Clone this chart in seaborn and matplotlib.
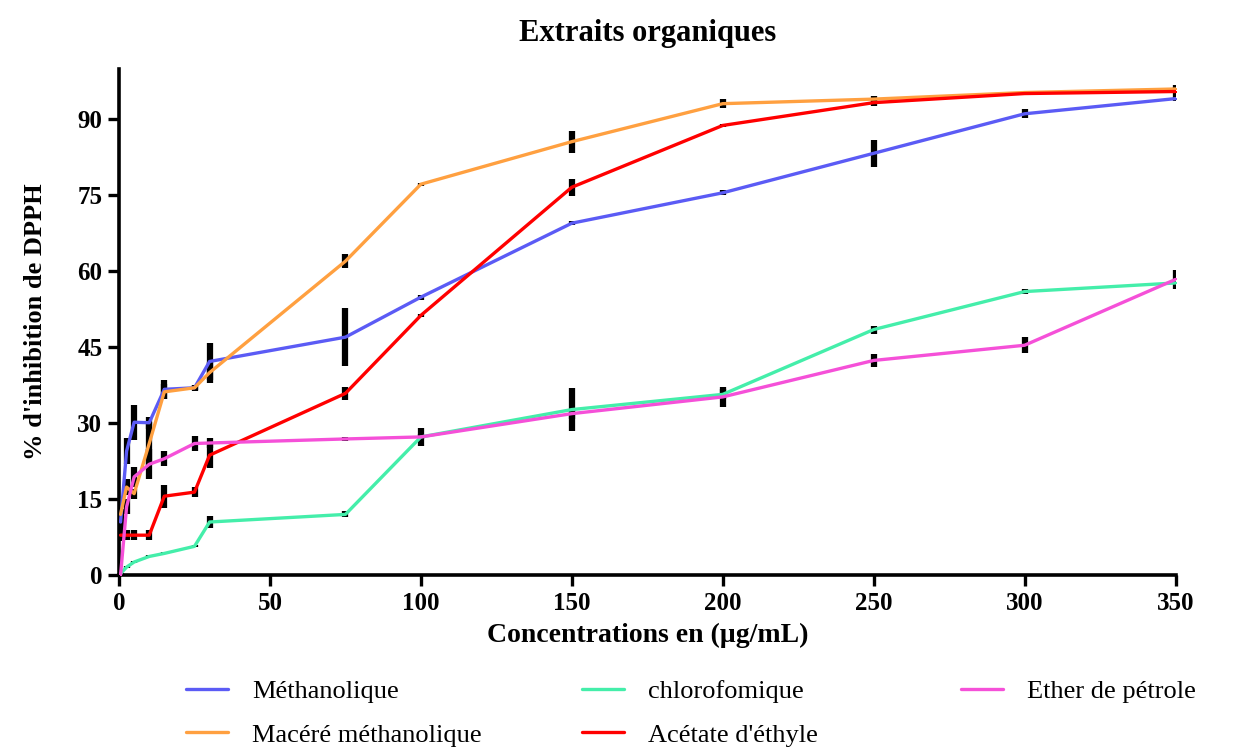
import pandas as pd
import matplotlib
matplotlib.use("Agg")
import matplotlib.pyplot as plt
import seaborn as sns

conc = [0.5, 2.5, 5, 10, 15, 25, 30, 75, 100, 150, 200, 250, 300, 350]

methanolique = [10.5, 24.5, 30.2, 30.1, 36.7, 37.0, 42.2, 47.0, 54.9, 69.5, 75.5, 83.3, 91.1, 94.1]
methanolique_sd = [2.0, 2.6, 3.5, 1.2, 1.9, 0.6, 3.6, 5.7, 0.5, 0.4, 0.5, 2.7, 0.9, 0.5]

macere = [12.0, 17.4, 16.1, 26.0, 36.2, 37.0, 40.0, 62.0, 77.2, 85.6, 93.1, 94.0, 95.3, 96.0]
macere_sd = [1.0, 1.5, 1.0, 4.3, 1.5, 0.5, 2.0, 1.4, 0.3, 2.2, 0.9, 0.6, 0.3, 0.8]

chloro = [0.3, 1.6, 2.6, 3.7, 4.3, 5.7, 10.5, 12.0, 27.3, 32.7, 35.7, 48.5, 56.0, 57.7]
chloro_sd = [0.2, 0.2, 0.2, 0.2, 0.2, 0.2, 1.2, 0.6, 0.5, 4.2, 1.0, 0.8, 0.5, 0.5]

acetate = [7.9, 7.9, 7.9, 7.9, 15.6, 16.4, 23.7, 35.9, 51.3, 76.6, 88.8, 93.3, 95.1, 95.5]
acetate_sd = [1.2, 1.0, 1.0, 1.0, 2.3, 1.0, 2.6, 1.3, 0.3, 1.7, 0.3, 0.6, 0.3, 0.8]

ether = [0.0, 13.5, 19.4, 21.9, 23.0, 26.0, 26.1, 26.9, 27.3, 31.9, 35.2, 42.4, 45.4, 58.4]
ether_sd = [0.3, 1.5, 2.0, 3.0, 1.5, 1.5, 1.0, 0.4, 1.8, 1.0, 2.0, 1.3, 1.6, 1.8]

series = {
    "Méthanolique": (methanolique, methanolique_sd),
    "Macéré méthanolique": (macere, macere_sd),
    "chlorofomique": (chloro, chloro_sd),
    "Acétate d'éthyle": (acetate, acetate_sd),
    "Ether de pétrole": (ether, ether_sd),
}
colors = {
    "Méthanolique": "#5b5bf5",
    "Macéré méthanolique": "#ffa040",
    "chlorofomique": "#44eeaa",
    "Acétate d'éthyle": "#ff0000",
    "Ether de pétrole": "#f550d8",
}

rows = []
for name, (vals, sds) in series.items():
    for c, v, s in zip(conc, vals, sds):
        rows.append({"conc": c, "val": v, "sd": s, "extrait": name})
df = pd.DataFrame(rows)

sns.set_style("ticks", {"axes.edgecolor": "black", "xtick.color": "black",
                        "ytick.color": "black", "text.color": "black",
                        "axes.labelcolor": "black"})
plt.rcParams["font.family"] = ["Liberation Serif", "DejaVu Serif"]

fig = plt.figure(figsize=(12.4, 7.47), dpi=100)
ax = fig.add_axes([0.096, 0.230, 0.852, 0.678])

# error bars first, lines on top
for name, (vals, sds) in series.items():
    ax.errorbar(conc, vals, yerr=sds, fmt="none", ecolor="black",
                elinewidth=4.5, capsize=0, zorder=2)

sns.lineplot(data=df, x="conc", y="val", hue="extrait", palette=colors,
             hue_order=list(series.keys()), linewidth=2.4, marker="s",
             markersize=1.5, markeredgewidth=0, ax=ax, zorder=3,
             errorbar=None, legend=True)

ax.set_xlim(0, 350)
ax.set_ylim(0, 100)
ax.set_xticks(range(0, 351, 50))
ax.set_yticks(range(0, 91, 15))
for s in ["top", "right"]:
    ax.spines[s].set_visible(False)
for s in ["left", "bottom"]:
    ax.spines[s].set_linewidth(2.6)
ax.tick_params(width=2.4, length=8, labelsize=18, pad=4)
for lab in ax.get_xticklabels() + ax.get_yticklabels():
    lab.set_fontweight("bold")

ax.set_xlabel("Concentrations en (µg/mL)", fontsize=20, fontweight="bold", labelpad=6)
ax.set_ylabel("% d'inhibition de DPPH", fontsize=19, fontweight="bold", labelpad=22)
ax.set_title("Extraits organiques", fontsize=22, fontweight="bold", pad=20)

# legend: three columns placed like the original
handles, labels = ax.get_legend_handles_labels()
ax.get_legend().remove()
lookup = dict(zip(labels, handles))
columns = [["Méthanolique", "Macéré méthanolique"],
           ["chlorofomique", "Acétate d'éthyle"],
           ["Ether de pétrole"]]
col_x = [0.150, 0.469, 0.775]
for names, x in zip(columns, col_x):
    leg = fig.legend([lookup[n] for n in names], names, loc="upper left",
                     bbox_to_anchor=(x, 0.090), frameon=False, fontsize=19,
                     handlelength=1.6, labelspacing=0.75, handletextpad=0.9,
                     borderaxespad=0, borderpad=0)

fig.savefig("out.png", dpi=100)
